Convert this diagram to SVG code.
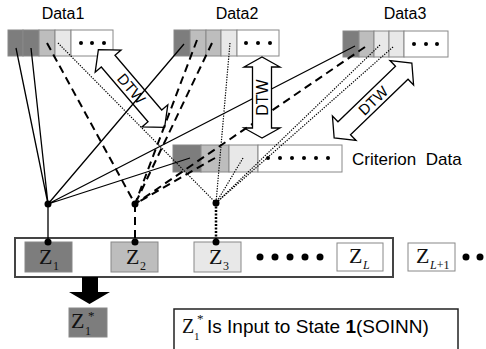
<svg xmlns="http://www.w3.org/2000/svg" width="486" height="349" viewBox="0 0 486 349">
<style>
.cell{stroke:#888;stroke-width:1}
.dk{fill:#7d7d7d}
.md{fill:#bdbdbd}
.lt{fill:#e8e8e8}
.wh{fill:#fff}
.lbl{font-family:"Liberation Sans",Arial,sans-serif;font-size:16px;fill:#000}
.sd{fill:#000}
.solid{stroke:#000;stroke-width:1.3;fill:none}
.dash{stroke:#000;stroke-width:2;fill:none;stroke-dasharray:8 5}
.dot{stroke:#000;stroke-width:1.2;fill:none;stroke-dasharray:1.3 1.3}
.arr{fill:#fff;stroke:#000;stroke-width:1.3;stroke-linejoin:miter}
.dtw{font-family:"Liberation Sans",Arial,sans-serif;font-size:15px;fill:#000;text-anchor:middle}
.zt{font-family:"Liberation Serif","Times New Roman",serif;fill:#111}
.zbox{stroke:#888;stroke-width:1}
</style>

<g id="data1">
<text class="lbl" x="63" y="19" text-anchor="middle">Data1</text>
<rect class="cell dk" x="8" y="30" width="15" height="26"/>
<rect class="cell dk" x="23" y="30" width="16" height="26"/>
<rect class="cell md" x="39" y="30" width="16" height="26"/>
<rect class="cell lt" x="55" y="30" width="16" height="26"/>
<rect class="cell wh" x="71" y="30" width="42" height="26"/>
<circle class="sd" cx="81" cy="43" r="2"/><circle class="sd" cx="92" cy="43" r="2"/><circle class="sd" cx="104" cy="43" r="2"/>
</g>

<g id="data2">
<text class="lbl" x="237" y="19" text-anchor="middle">Data2</text>
<rect class="cell dk" x="174" y="30" width="16" height="26"/>
<rect class="cell md" x="190" y="30" width="16" height="26"/>
<rect class="cell md" x="206" y="30" width="15" height="26"/>
<rect class="cell lt" x="221" y="30" width="16" height="26"/>
<rect class="cell wh" x="237" y="30" width="42" height="26"/>
<circle class="sd" cx="246" cy="43" r="2"/><circle class="sd" cx="258" cy="43" r="2"/><circle class="sd" cx="270" cy="43" r="2"/>
</g>

<g id="data3">
<text class="lbl" x="405" y="19" text-anchor="middle">Data3</text>
<rect class="cell dk" x="343" y="31" width="16" height="26"/>
<rect class="cell md" x="359" y="31" width="15" height="26"/>
<rect class="cell lt" x="374" y="31" width="15" height="26"/>
<rect class="cell lt" x="389" y="31" width="15" height="26"/>
<rect class="cell wh" x="404" y="31" width="44" height="26"/>
<circle class="sd" cx="414" cy="44" r="2"/><circle class="sd" cx="426" cy="44" r="2"/><circle class="sd" cx="437" cy="44" r="2"/>
</g>

<g id="criterion">
<rect class="cell dk" x="173" y="145" width="28" height="27"/>
<rect class="cell md" x="201" y="145" width="28" height="27"/>
<rect class="cell lt" x="229" y="145" width="29" height="27"/>
<rect class="cell wh" x="258" y="145" width="84" height="27"/>
<circle class="sd" cx="268" cy="158" r="2"/><circle class="sd" cx="280" cy="158" r="2"/><circle class="sd" cx="292" cy="158" r="2"/><circle class="sd" cx="304" cy="158" r="2"/><circle class="sd" cx="316" cy="158" r="2"/><circle class="sd" cx="328" cy="158" r="2"/>
<text class="lbl" x="352" y="165" style="font-size:17px;white-space:pre" xml:space="preserve">Criterion  Data</text>
</g>

<g id="dtw1" transform="translate(131.5,88.5) rotate(49.5)">
<path class="arr" d="M-51,0 L-36,-17 L-36,-9 L36,-9 L36,-17 L51,0 L36,17 L36,9 L-36,9 L-36,17 Z"/>
<text class="dtw" x="0" y="5.5">DTW</text>
</g>

<g id="z-row">
<rect x="15" y="238" width="378" height="39" fill="#fff" stroke="#444" stroke-width="2"/>
<circle class="sd" cx="260" cy="257" r="3.5"/><circle class="sd" cx="275" cy="257" r="3.5"/><circle class="sd" cx="290" cy="257" r="3.5"/><circle class="sd" cx="305" cy="257" r="3.5"/><circle class="sd" cx="320" cy="257" r="3.5"/>
</g>

<g id="z1">
<rect class="zbox dk" x="25" y="242" width="47" height="30"/>
<text class="zt" x="39" y="264" font-size="22">Z<tspan x="53" y="270" font-size="12">1</tspan></text>
</g>
<g id="z2">
<rect class="zbox md" x="111" y="242" width="47" height="30"/>
<text class="zt" x="126" y="264" font-size="22">Z<tspan x="140" y="270" font-size="12">2</tspan></text>
</g>
<g id="z3">
<rect class="zbox lt" x="194" y="242" width="47" height="30"/>
<text class="zt" x="209" y="264" font-size="22">Z<tspan x="223" y="270" font-size="12">3</tspan></text>
</g>
<g id="zL">
<rect class="zbox wh" x="337" y="243" width="46" height="28"/>
<text class="zt" x="349" y="263" font-size="22">Z<tspan x="363" y="269" font-size="12" font-style="italic">L</tspan></text>
</g>
<g id="zL1">
<rect class="zbox wh" x="408" y="243" width="47" height="28"/>
<text class="zt" x="416" y="263" font-size="22">Z<tspan x="430" y="269" font-size="12"><tspan font-style="italic">L</tspan>+1</tspan></text>
<circle class="sd" cx="466" cy="257" r="3.5"/><circle class="sd" cx="480" cy="257" r="3.5"/>
</g>

<g id="connectors">
<path class="solid" d="M16,48 L48,204 M31,48 L48,204 M184,44 L48,204 M355,46 L48,204 M190,158 L48,204 M48,204 L48,242"/>
<path class="dash" d="M47,43 L135,204 M197,40 L135,204 M212,43 L135,204 M365,47 L135,204 M215,158 L135,204 M135,204 L135,242"/>
<path class="dot" d="M58,43 L216,203 M230,43 L216,203 M380,45 L216,203 M393,47 L216,203 M243,158 L216,203"/>
<path d="M216,203 L216,242" stroke="#000" stroke-width="2.5" stroke-dasharray="2 1.5" fill="none"/>
<circle class="sd" cx="48" cy="204" r="3.5"/>
<circle class="sd" cx="135" cy="204" r="3.5"/>
<circle class="sd" cx="216" cy="203" r="3.5"/>
<circle class="sd" cx="48" cy="242" r="3.5"/>
<circle class="sd" cx="135" cy="242" r="3.5"/>
<circle class="sd" cx="216" cy="242" r="3.5"/>
<polygon class="sd" points="82,277 98,277 98,292 110,292 89.5,304 69,292 82,292"/>
</g>

<g id="dtw2" transform="translate(262,97.5) rotate(-90)">
<path class="arr" d="M-40.5,0 L-30.5,-18 L-30.5,-9.5 L30.5,-9.5 L30.5,-18 L40.5,0 L30.5,18 L30.5,9.5 L-30.5,9.5 L-30.5,18 Z"/>
<text class="dtw" x="0" y="5.5" style="font-size:16px">DTW</text>
</g>

<g id="dtw3" transform="translate(373,100.5) rotate(-44)">
<path class="arr" d="M-54,0 L-40,-17 L-40,-9 L40,-9 L40,-17 L54,0 L40,17 L40,9 L-40,9 L-40,17 Z"/>
<text class="dtw" x="0" y="5.5">DTW</text>
</g>

<g id="z1star">
<rect class="zbox dk" x="69" y="308" width="38" height="29"/>
<text class="zt" x="71" y="328" font-size="22">Z<tspan x="85" y="335" font-size="12">1</tspan><tspan x="88" y="320" font-size="13">*</tspan></text>
</g>

<g id="caption">
<rect x="174" y="309" width="284" height="45" fill="#fff" stroke="#222" stroke-width="1.5"/>
<text class="zt" x="182" y="333" font-size="20">Z<tspan x="194" y="340" font-size="11">1</tspan><tspan x="197" y="323" font-size="13">*</tspan></text>
<text class="lbl" x="207" y="333" style="font-size:19px">Is Input to State <tspan font-weight="bold">1</tspan>(SOINN)</text>
</g>
</svg>
